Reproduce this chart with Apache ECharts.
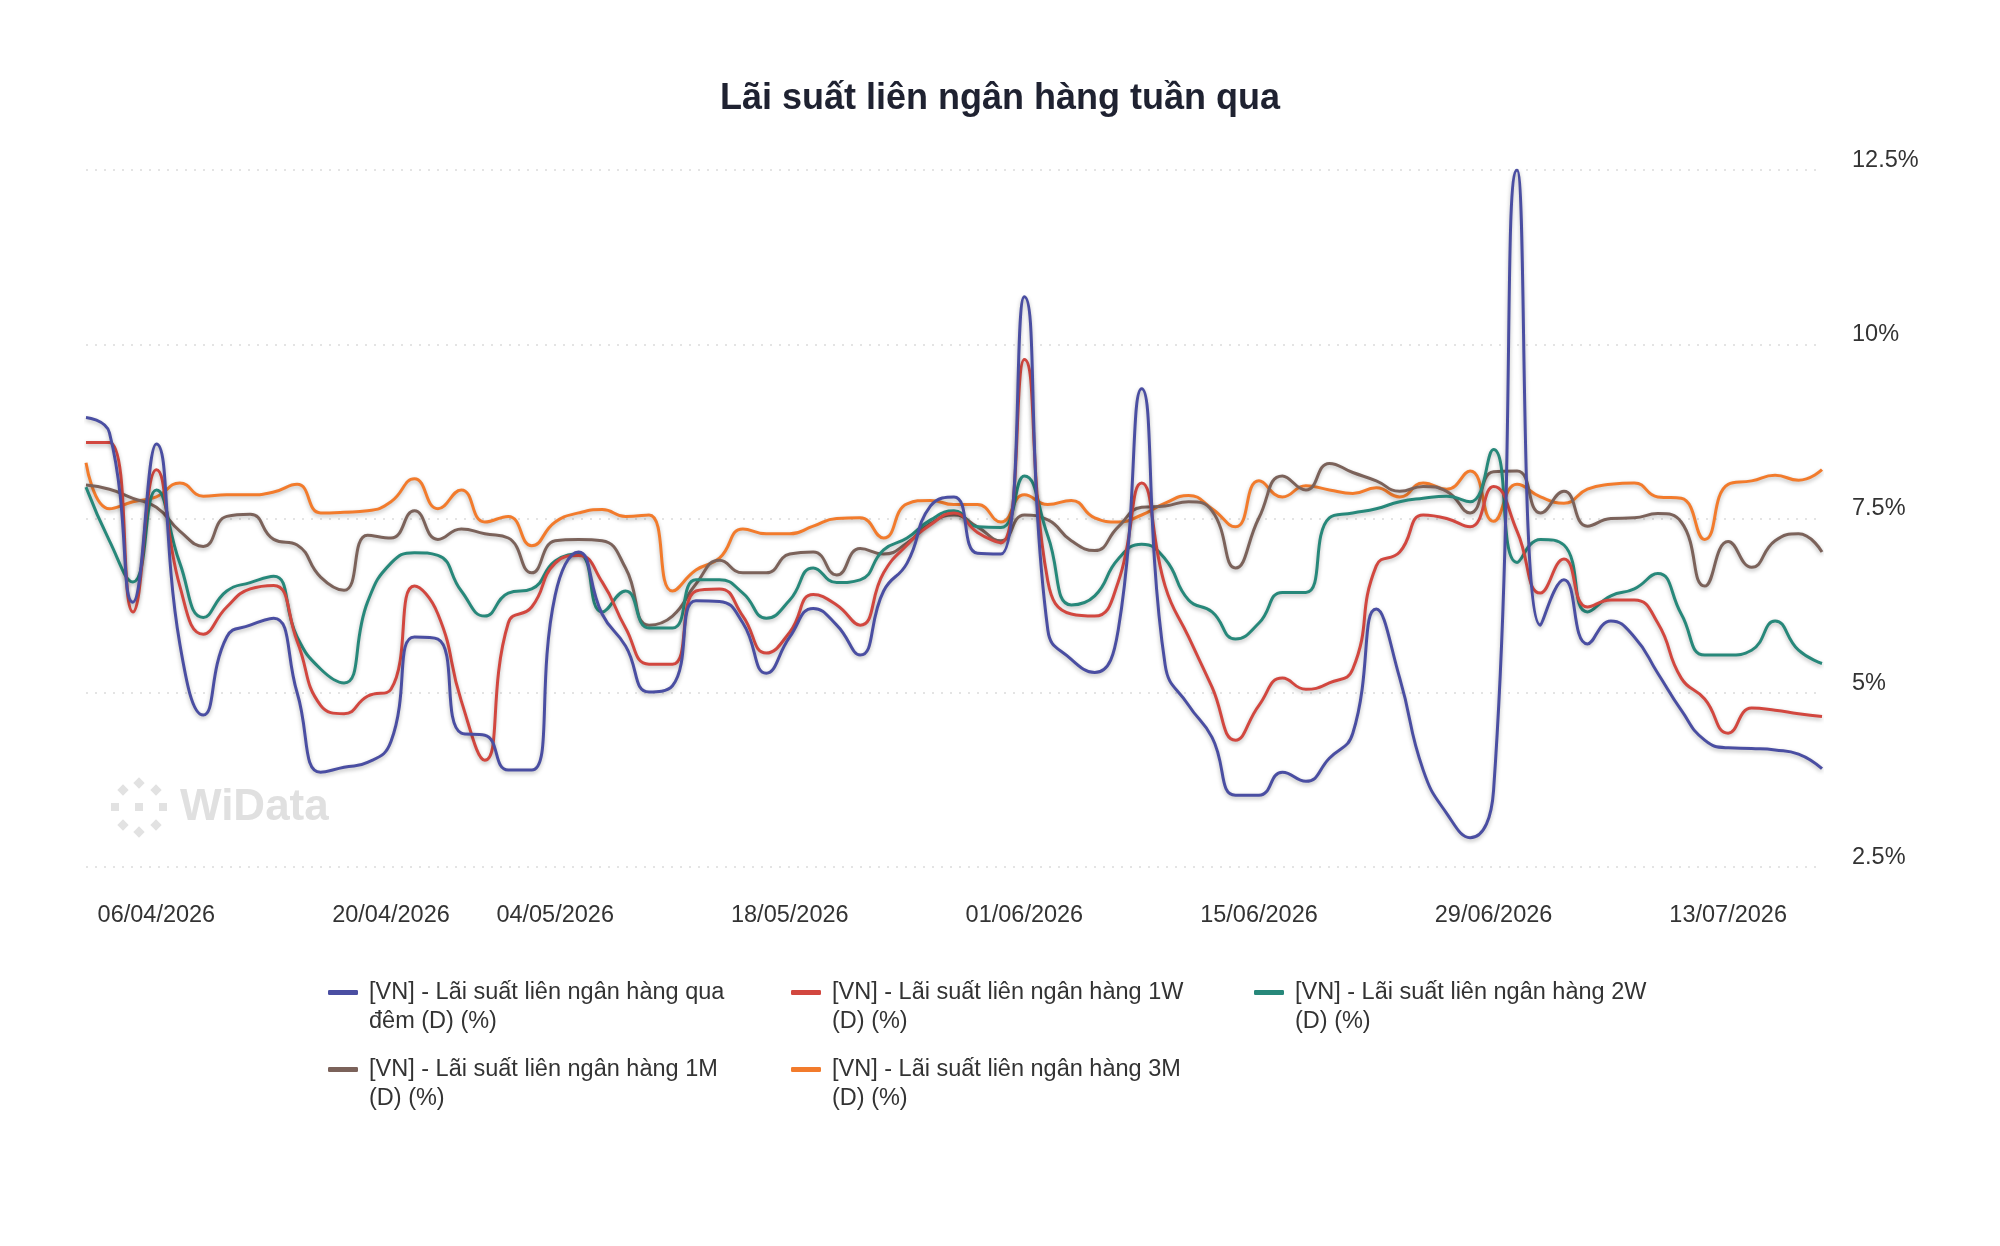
<!DOCTYPE html>
<html>
<head>
<meta charset="utf-8">
<title>Lãi suất liên ngân hàng tuần qua</title>
<script src="https://cdn.jsdelivr.net/npm/echarts@6/dist/echarts.min.js"></script>
<style>
  html, body { margin: 0; padding: 0; background: #fff; }
  #chart { width: 2000px; height: 1246px; }
</style>
</head>
<body>
<div id="chart"></div>
<script>
// ngày giao dịch (trục x)
var dates = [
  '01/04/2026','02/04/2026','03/04/2026','06/04/2026','07/04/2026','08/04/2026','09/04/2026','10/04/2026',
  '13/04/2026','14/04/2026','15/04/2026','16/04/2026','17/04/2026','20/04/2026','21/04/2026','22/04/2026',
  '23/04/2026','24/04/2026','28/04/2026','29/04/2026',
  '04/05/2026','05/05/2026','06/05/2026','07/05/2026','08/05/2026','11/05/2026','12/05/2026','13/05/2026',
  '14/05/2026','15/05/2026','18/05/2026','19/05/2026','20/05/2026','21/05/2026','22/05/2026','25/05/2026',
  '26/05/2026','27/05/2026','28/05/2026','29/05/2026',
  '01/06/2026','02/06/2026','03/06/2026','04/06/2026','05/06/2026','08/06/2026','09/06/2026','10/06/2026',
  '11/06/2026','12/06/2026','15/06/2026','16/06/2026','17/06/2026','18/06/2026','19/06/2026','22/06/2026',
  '23/06/2026','24/06/2026','25/06/2026','26/06/2026','29/06/2026','30/06/2026',
  '01/07/2026','02/07/2026','03/07/2026','06/07/2026','07/07/2026','08/07/2026','09/07/2026','10/07/2026',
  '13/07/2026','14/07/2026','15/07/2026','16/07/2026','17/07/2026'
];
var tickLabels = ['06/04/2026','20/04/2026','04/05/2026','18/05/2026','01/06/2026','15/06/2026','29/06/2026','13/07/2026'];

var names = [
  '[VN] - Lãi suất liên ngân hàng qua đêm (D) (%)',
  '[VN] - Lãi suất liên ngân hàng 1W (D) (%)',
  '[VN] - Lãi suất liên ngân hàng 2W (D) (%)',
  '[VN] - Lãi suất liên ngân hàng 1M (D) (%)',
  '[VN] - Lãi suất liên ngân hàng 3M (D) (%)'
];
var colors = ['#4a4ea2', '#d2473f', '#27887a', '#7b625a', '#f27b2c'];

var overnight = [8.95,8.73,6.3,8.57,5.7,4.68,5.8,5.97,6.07,5.0,3.86,3.93,4.0,
  4.3,5.8,5.77,4.42,4.39,3.89,3.89,6.4,7.02,6.13,5.67,5.01,
  5.1,6.32,6.31,6.0,5.28,5.8,6.21,5.97,5.54,6.46,6.86,7.68,7.81,
  7.0,6.99,10.68,5.9,5.48,5.29,5.9,9.36,5.4,4.82,4.36,3.53,
  3.53,3.86,3.73,4.06,4.42,6.2,5.21,3.89,3.27,2.92,3.6,12.5,
  5.97,6.62,5.7,6.03,5.8,5.28,4.75,4.32,4.21,4.2,4.18,4.12,3.91];
var w1 = [8.59,8.59,6.16,8.2,6.53,5.84,6.23,6.49,6.54,5.74,4.82,4.7,4.95,
  5.05,6.53,6.13,4.88,4.03,6.0,6.23,6.86,6.97,6.59,5.93,5.41,
  5.41,6.46,6.49,6.1,5.57,5.87,6.41,6.26,5.97,6.72,7.12,7.41,7.58,
  7.3,7.15,9.78,6.6,6.13,6.1,6.59,8.01,6.53,5.8,5.08,4.32,
  4.82,5.21,5.05,5.14,5.34,6.82,7.02,7.55,7.5,7.38,7.96,7.32,
  6.43,6.92,6.23,6.33,6.33,6.0,5.21,4.91,4.42,4.78,4.75,4.7,4.66];
var w2 = [7.95,7.18,6.59,7.91,6.86,6.08,6.46,6.58,6.67,5.8,5.34,5.14,6.3,
  6.86,7.01,6.97,6.46,6.1,6.43,6.49,6.89,6.99,6.16,6.46,5.93,
  5.93,6.62,6.62,6.43,6.07,6.33,6.79,6.58,6.62,7.05,7.22,7.48,7.61,
  7.38,7.37,8.11,7.25,6.26,6.39,6.92,7.13,6.92,6.33,6.16,5.77,
  6.0,6.44,6.44,7.51,7.58,7.64,7.74,7.79,7.82,7.74,8.49,6.87,
  7.2,7.12,6.16,6.39,6.49,6.71,6.13,5.54,5.54,5.61,6.03,5.61,5.42];
var m1 = [7.98,7.92,7.79,7.66,7.32,7.1,7.53,7.56,7.2,7.12,6.66,6.47,7.26,
  7.22,7.61,7.2,7.35,7.28,7.22,6.72,7.18,7.2,7.18,6.79,5.97,
  6.1,6.56,6.9,6.72,6.72,6.99,7.02,6.69,7.07,6.99,7.15,7.43,7.55,
  7.38,7.18,7.55,7.48,7.18,7.04,7.38,7.66,7.68,7.74,7.61,6.79,
  7.51,8.11,7.91,8.29,8.16,8.04,7.89,7.96,7.89,7.58,8.17,8.18,
  7.58,7.89,7.39,7.5,7.51,7.57,7.45,6.53,7.17,6.8,7.18,7.28,7.02];
var m3 = [8.3,7.64,7.74,7.81,8.01,7.82,7.84,7.84,7.88,7.99,7.58,7.59,7.61,
  7.74,8.07,7.64,7.91,7.45,7.53,7.11,7.45,7.58,7.63,7.53,7.55,
  6.46,6.76,6.93,7.35,7.28,7.28,7.39,7.5,7.51,7.22,7.71,7.76,7.7,
  7.7,7.45,7.84,7.7,7.76,7.51,7.45,7.55,7.72,7.83,7.64,7.38,
  8.04,7.81,7.97,7.91,7.86,7.94,7.81,8.01,7.92,8.18,7.46,7.99,
  7.81,7.72,7.92,7.99,8.01,7.81,7.79,7.2,7.99,8.04,8.12,8.05,8.2];
var values = [overnight, w1, w2, m1, m3];

var font = 'Liberation Sans, Arial, Helvetica, sans-serif';
var chart = echarts.init(document.getElementById('chart'));

// xuống dòng tên chú thích giống bản gốc
function wrapName(name) {
  if (name.indexOf(' đêm (D) (%)') > 0) {
    return '\n' + name.replace(' đêm (D) (%)', '\nđêm (D) (%)');
  }
  return '\n' + name.replace(/ \(D\) \(%\)$/, '\n(D) (%)');
}

var legendPos = [[323, 944], [786, 944], [1249, 944], [323, 1021], [786, 1021]];
var legends = names.map(function (n, i) {
  return {
    data: [n],
    left: legendPos[i][0],
    top: legendPos[i][1],
    icon: 'roundRect',
    itemWidth: 30,
    itemHeight: 5,
    selectedMode: false,
    formatter: wrapName,
    textStyle: { fontFamily: font, fontSize: 23.5, lineHeight: 29, color: '#333', padding: [0, 0, 0, 6] }
  };
});

var series = names.map(function (n, i) {
  return {
    name: n,
    type: 'line',
    data: values[i],
    smooth: 0.5,
    showSymbol: false,
    z: 10 - i,
    itemStyle: { color: colors[i] },
    lineStyle: {
      width: 3,
      color: colors[i],
      shadowColor: 'rgba(0,0,0,0.28)',
      shadowBlur: 4,
      shadowOffsetY: 2
    }
  };
});

// logo mờ WiData
var dots = [[139, 783, 45], [115, 807, 0], [139, 807, 0], [163, 807, 0], [139, 832, 45],
            [123, 790, 45], [156, 790, 45], [123, 825, 45], [156, 825, 45]];
var logo = dots.map(function (d) {
  return {
    type: 'rect',
    x: d[0], y: d[1],
    rotation: d[2] * Math.PI / 180,
    shape: { x: -4, y: -4, width: 8, height: 8 },
    style: { fill: '#e2e2e2' },
    silent: true
  };
});
logo.push({
  type: 'text', x: 180, y: 808, silent: true,
  style: { text: 'WiData', fill: '#e0e0e0', font: 'bold 44px ' + font, verticalAlign: 'middle' }
});

var option = {
  backgroundColor: '#fff',
  animation: false,
  title: {
    text: 'Lãi suất liên ngân hàng tuần qua',
    left: 'center',
    top: 76,
    textStyle: { fontFamily: font, fontSize: 36, fontWeight: 'bold', color: '#1f2231' }
  },
  legend: legends,
  graphic: logo,
  grid: { left: 86, right: 178, top: 170, bottom: 379 },
  xAxis: {
    type: 'category',
    data: dates,
    boundaryGap: false,
    axisLine: { show: false },
    axisTick: { show: false },
    axisLabel: {
      interval: function (idx, val) { return tickLabels.indexOf(val) >= 0; },
      margin: 37,
      fontFamily: font,
      fontSize: 23.5,
      color: '#333'
    },
    splitLine: { show: false }
  },
  yAxis: {
    type: 'value',
    position: 'right',
    min: 2.5,
    max: 12.5,
    interval: 2.5,
    axisLine: { show: false },
    axisTick: { show: false },
    axisLabel: {
      formatter: function (v) { return v + '%'; },
      margin: 30,
      verticalAlign: 'bottom',
      lineHeight: 19,
      fontFamily: font,
      fontSize: 23.5,
      color: '#333'
    },
    splitLine: { lineStyle: { color: '#dcdcdc', width: 1.5, type: [2, 7] } }
  },
  series: series
};
chart.setOption(option);
</script>
</body>
</html>
